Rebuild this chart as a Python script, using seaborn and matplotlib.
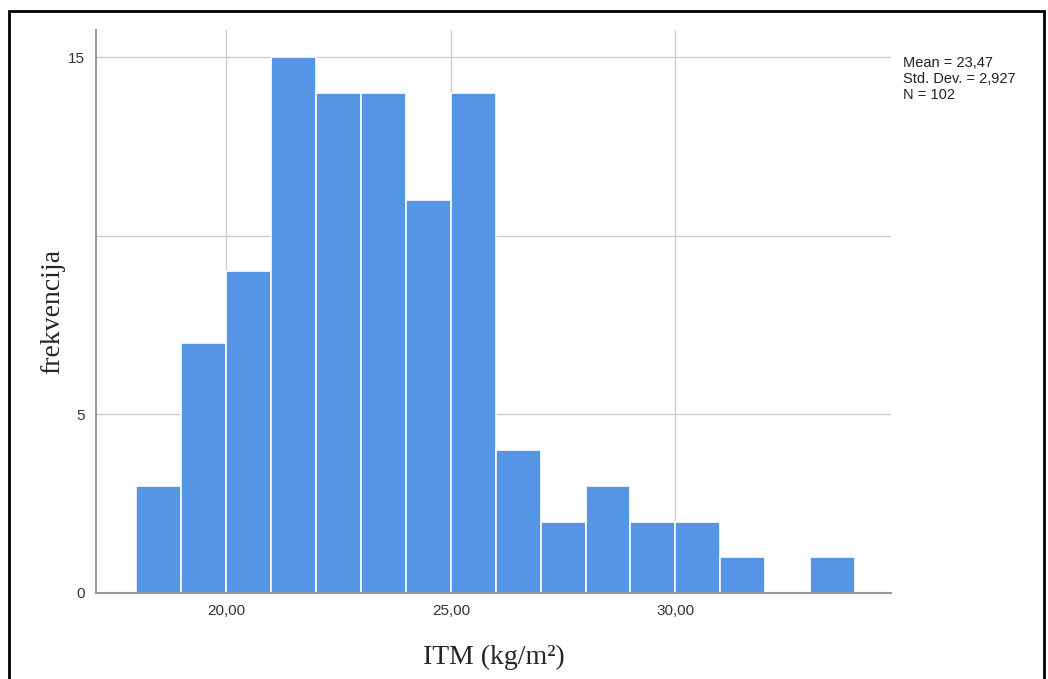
import matplotlib
matplotlib.use("Agg")
import matplotlib.pyplot as plt
import seaborn as sns
import pandas as pd
from matplotlib.patches import Rectangle

# histogram bins (width 1, from 18 to 34) and counts
bin_left = [18, 19, 20, 21, 22, 23, 24, 25, 26, 27, 28, 29, 30, 31, 32, 33]
counts = [3, 7, 9, 15, 14, 14, 11, 14, 4, 2, 3, 2, 2, 1, 0, 1]

x_ticks = [20, 25, 30]
x_tick_labels = ["20,00", "25,00", "30,00"]
y_ticks = [0, 5, 10, 15]
y_tick_labels = ["0", "5", "", "15"]
stats_text = "Mean = 23,47\nStd. Dev. = 2,927\nN = 102"

df = pd.DataFrame({"itm": [b + 0.5 for b in bin_left], "n": counts})

sns.set_style("white")
plt.rcParams["font.family"] = ["Liberation Sans", "DejaVu Sans"]

fig = plt.figure(figsize=(10.48, 6.79), dpi=100)
W, H = 1048, 679
ax = fig.add_axes([96 / W, 1 - 593 / H, (891 - 96) / W, (593 - 30) / H])

sns.histplot(data=df, x="itm", weights="n", binwidth=1, binrange=(18, 34),
             color="#5595e5", alpha=1, edgecolor="white", linewidth=1.2, ax=ax)

ax.set_xlim(17.1, 34.8)
ax.set_ylim(0, 15.76)
ax.set_xticks(x_ticks)
ax.set_xticklabels(x_tick_labels, fontsize=11, color="#333333")
ax.set_yticks(y_ticks)
ax.set_yticklabels(y_tick_labels, fontsize=11, color="#333333")
ax.tick_params(length=0, pad=8)
ax.grid(True, color="#cccccc", linewidth=1)
ax.set_axisbelow(True)

for s in ["top", "right"]:
    ax.spines[s].set_visible(False)
for s in ["left", "bottom"]:
    ax.spines[s].set_color("#999999")
    ax.spines[s].set_linewidth(1.5)

ax.set_xlabel("ITM (kg/m²)", fontsize=20, family="Liberation Serif", labelpad=19)
ax.set_ylabel("frekvencija", fontsize=20, family="Liberation Serif", labelpad=2)

fig.text(903 / W, 1 - 56 / H, stats_text, fontsize=10.5, va="top", ha="left",
         color="#222222", linespacing=1.2)

# black frame around the picture
fig.patches.append(Rectangle((9 / W, -0.05), (1044 - 9) / W, 1 - 11 / H + 0.05,
                             transform=fig.transFigure, fill=False,
                             edgecolor="black", linewidth=2))

fig.savefig("out.png", dpi=100)
